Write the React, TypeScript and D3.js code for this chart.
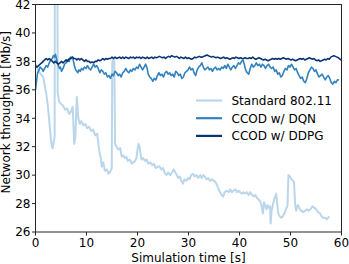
import React from "react";
import * as d3 from "d3";

const W = 349;
const H = 264;
const M = { left: 35.5, right: 7.5, top: 4.5, bottom: 32 };

const xTicks = [0, 10, 20, 30, 40, 50, 60];
const yTicks = [26, 28, 30, 32, 34, 36, 38, 40, 42];
const seriesNames = ["Standard 802.11", "CCOD w/ DQN", "CCOD w/ DDPG"];
const seriesColors = ["#bad6eb", "#3282be", "#0b3474"];
const seriesWidths = [2, 1.6, 1.6];

const standard: [number, number][] = [
  [0.0, 37.8], [0.3, 37.6], [0.6, 37.3], [1.0, 37.1], [1.5, 36.9], [1.8, 36.3], [2.2, 35.5],
  [2.5, 34.6], [2.8, 33.4], [3.0, 32.6], [3.2, 32.0], [3.4, 31.9], [3.6, 32.4], [3.75, 32.7],
  [3.8, 46], [4.3, 46], [4.35, 35.8], [4.6, 35.2], [5.0, 35.0], [5.4, 34.9], [5.8, 34.6],
  [6.2, 34.7], [6.6, 34.3], [7.0, 34.5], [7.3, 34.8], [7.5, 33.0], [7.6, 32.2], [7.8, 32.6],
  [8.1, 35.5], [8.4, 34.0], [8.7, 33.6], [9.0, 33.8], [9.4, 33.5], [9.8, 33.6], [10.1, 33.3],
  [10.5, 33.4], [10.9, 33.1], [11.3, 33.2], [11.7, 32.8], [12.1, 32.9], [12.4, 32.0], [12.6, 31.5],
  [12.8, 31.2], [13.0, 30.6], [13.3, 30.9], [13.6, 30.3], [14.0, 30.4], [14.3, 30.1], [14.6, 30.2],
  [14.95, 30.5], [15.05, 37.9], [15.2, 38.2], [15.45, 38.0], [15.6, 32.2], [15.9, 32.0], [16.2, 31.8],
  [16.6, 31.9], [16.9, 31.3], [17.2, 31.4], [17.5, 31.2], [17.8, 31.3], [18.1, 31.0], [18.5, 31.1],
  [18.9, 30.8], [19.2, 30.9], [19.5, 31.0], [19.8, 31.2], [20.0, 31.8], [20.2, 32.2], [20.4, 32.0],
  [20.6, 31.5], [20.8, 31.1], [21.1, 31.2], [21.5, 31.0], [21.8, 31.1], [22.1, 30.8], [22.5, 30.9],
  [22.9, 30.7], [23.2, 30.8], [23.6, 30.5], [24.0, 30.6], [24.3, 30.6], [24.7, 30.4], [25.0, 30.5],
  [25.4, 30.1], [25.7, 30.0], [26.0, 30.2], [26.4, 30.0], [26.8, 30.2], [27.1, 30.4], [27.4, 30.2],
  [27.7, 30.0], [28.0, 29.8], [28.3, 29.9], [28.6, 29.6], [28.9, 29.4], [29.2, 29.7], [29.6, 29.6],
  [29.9, 29.8], [30.2, 29.7], [30.5, 30.0], [30.9, 30.1], [31.2, 29.9], [31.6, 30.0], [31.9, 29.8],
  [32.3, 30.0], [32.6, 29.8], [32.9, 30.0], [33.2, 29.9], [33.5, 29.7], [33.9, 29.8], [34.2, 29.6],
  [34.6, 29.7], [35.0, 29.6], [35.3, 29.5], [35.6, 29.3], [35.9, 29.0], [36.2, 28.8], [36.5, 28.6],
  [36.8, 28.5], [37.1, 28.8], [37.5, 28.9], [37.9, 28.8], [38.2, 29.0], [38.5, 28.8], [38.8, 28.9],
  [39.2, 29.0], [39.5, 28.8], [39.8, 28.9], [40.1, 28.8], [40.5, 28.7], [40.8, 28.8], [41.1, 28.7],
  [41.4, 28.8], [41.8, 28.6], [42.1, 28.8], [42.5, 28.6], [42.8, 28.5], [43.1, 28.6], [43.4, 28.4],
  [43.7, 28.3], [44.0, 28.2], [44.3, 27.9], [44.6, 27.3], [44.8, 28.1], [45.1, 27.8], [45.3, 27.6],
  [45.5, 27.9], [45.8, 27.7], [46.0, 27.8], [46.1, 26.6], [46.3, 27.5], [46.6, 28.0], [46.9, 28.4],
  [47.2, 28.7], [47.4, 28.0], [47.6, 27.3], [47.9, 27.1], [48.2, 27.0], [48.5, 27.1], [48.9, 27.4],
  [49.2, 27.7], [49.4, 27.8], [49.6, 30.0], [49.9, 29.9], [50.2, 29.7], [50.5, 29.6], [50.7, 29.5],
  [50.9, 28.0], [51.1, 27.5], [51.3, 27.8], [51.5, 27.9], [51.8, 27.6], [52.1, 27.5], [52.5, 27.4],
  [52.9, 27.5], [53.2, 27.6], [53.5, 27.5], [53.9, 27.6], [54.3, 27.8], [54.7, 27.7], [55.0, 27.6],
  [55.4, 27.4], [55.8, 27.3], [56.1, 27.1], [56.4, 27.0], [56.8, 27.0], [57.1, 26.9], [57.4, 27.0],
  [57.6, 27.1],
];

const dqn: [number, number][] = [
  [0.0, 36.0], [0.2, 36.6], [0.4, 37.2], [0.6, 37.3], [0.9, 37.6], [1.2, 37.5], [1.5, 37.3],
  [1.8, 37.5], [2.1, 37.7], [2.4, 37.6], [2.7, 37.9], [3.0, 38.1], [3.3, 38.2], [3.5, 38.4],
  [3.7, 38.3], [3.9, 38.5], [4.1, 38.2], [4.3, 37.9], [4.5, 37.7], [4.7, 37.5], [4.9, 37.6],
  [5.1, 37.3], [5.4, 37.5], [5.7, 37.8], [6.0, 37.9], [6.3, 38.1], [6.6, 38.0], [6.9, 38.3],
  [7.1, 38.2], [7.3, 38.3], [7.5, 37.9], [7.7, 37.6], [7.9, 37.4], [8.1, 37.3], [8.3, 37.2],
  [8.5, 37.4], [8.8, 37.3], [9.0, 37.5], [9.3, 37.4], [9.6, 37.6], [9.9, 37.5], [10.2, 37.7],
  [10.5, 37.5], [10.8, 37.4], [11.1, 37.6], [11.4, 37.8], [11.7, 37.6], [12.0, 37.7], [12.3, 37.5],
  [12.6, 37.2], [12.9, 37.4], [13.2, 37.3], [13.5, 37.1], [13.8, 37.2], [14.1, 36.9], [14.4, 37.0],
  [14.7, 36.8], [15.0, 37.1], [15.3, 37.0], [15.6, 37.3], [15.9, 37.2], [16.2, 37.0], [16.5, 37.1],
  [16.8, 36.9], [17.1, 37.2], [17.4, 37.3], [17.7, 37.5], [18.0, 37.3], [18.3, 37.2], [18.6, 37.4],
  [18.9, 37.3], [19.2, 37.5], [19.5, 37.4], [19.8, 37.6], [20.1, 37.5], [20.4, 37.8], [20.7, 37.6],
  [21.0, 37.4], [21.3, 37.6], [21.6, 37.8], [21.9, 37.5], [22.1, 37.1], [22.4, 36.9], [22.7, 36.8],
  [23.0, 36.6], [23.3, 36.8], [23.6, 36.7], [23.9, 37.0], [24.2, 37.2], [24.5, 37.0], [24.8, 37.1],
  [25.1, 36.9], [25.4, 37.2], [25.7, 37.3], [26.0, 37.1], [26.3, 37.2], [26.6, 37.0], [26.9, 37.1],
  [27.2, 36.9], [27.5, 37.3], [27.8, 37.2], [28.1, 37.0], [28.4, 37.1], [28.7, 36.8], [29.0, 36.9],
  [29.3, 37.2], [29.6, 37.3], [29.9, 37.4], [30.2, 37.6], [30.5, 37.4], [30.8, 37.5], [31.1, 37.2],
  [31.4, 37.0], [31.7, 37.4], [32.0, 37.6], [32.3, 37.7], [32.6, 37.9], [32.9, 37.6], [33.2, 37.4],
  [33.5, 37.5], [33.8, 37.6], [34.1, 37.4], [34.4, 37.5], [34.7, 37.3], [35.0, 37.5], [35.3, 37.6],
  [35.6, 37.4], [35.9, 37.5], [36.2, 37.4], [36.5, 37.6], [36.8, 37.5], [37.1, 37.7], [37.4, 37.5],
  [37.7, 37.8], [38.0, 37.6], [38.3, 37.4], [38.6, 37.6], [38.9, 37.7], [39.2, 37.5], [39.5, 37.7],
  [39.8, 37.9], [40.1, 37.8], [40.4, 38.0], [40.7, 38.1], [41.0, 37.7], [41.2, 37.4], [41.5, 37.2],
  [41.8, 37.1], [42.1, 37.5], [42.4, 37.8], [42.7, 37.6], [43.0, 37.7], [43.3, 37.9], [43.6, 37.7],
  [43.9, 37.8], [44.2, 37.6], [44.5, 37.8], [44.8, 37.7], [45.1, 37.5], [45.4, 37.7], [45.7, 37.8],
  [46.0, 37.6], [46.3, 37.5], [46.6, 37.6], [46.9, 37.3], [47.2, 37.4], [47.5, 37.1], [47.8, 37.2],
  [48.1, 36.9], [48.4, 37.0], [48.7, 37.3], [49.0, 37.5], [49.3, 37.4], [49.6, 37.7], [49.9, 37.6],
  [50.2, 37.8], [50.5, 37.6], [50.8, 37.4], [51.1, 37.5], [51.4, 37.2], [51.7, 37.0], [52.0, 36.8],
  [52.3, 36.9], [52.6, 36.6], [52.9, 36.5], [53.2, 36.8], [53.5, 37.2], [53.8, 37.4], [54.1, 37.6],
  [54.4, 37.5], [54.7, 37.3], [55.0, 37.4], [55.3, 37.1], [55.6, 36.9], [55.9, 37.0], [56.2, 37.1],
  [56.5, 36.9], [56.8, 36.7], [57.1, 36.9], [57.4, 37.0], [57.7, 36.8], [58.0, 36.5], [58.3, 36.4],
  [58.6, 36.6], [58.9, 36.5], [59.2, 36.7], [59.5, 36.7],
];

const ddpg: [number, number][] = [
  [0.0, 37.7], [0.3, 37.6], [0.6, 37.7], [0.9, 37.8], [1.2, 37.9], [1.5, 38.0], [1.8, 38.1],
  [2.1, 38.2], [2.4, 38.1], [2.7, 38.2], [3.0, 38.1], [3.3, 38.0], [3.6, 37.9], [3.9, 38.0],
  [4.2, 37.9], [4.5, 37.8], [4.8, 37.9], [5.1, 38.0], [5.4, 37.9], [5.7, 38.0], [6.0, 38.1],
  [6.3, 38.0], [6.6, 38.2], [6.9, 38.2], [7.2, 38.3], [7.5, 38.2], [7.8, 38.2], [8.1, 38.1],
  [8.4, 38.2], [8.7, 38.1], [9.0, 38.2], [9.3, 38.1], [9.6, 38.0], [9.9, 38.1], [10.2, 38.0],
  [10.5, 38.0], [10.8, 37.9], [11.1, 37.95], [11.4, 37.9], [11.7, 38.0], [12.0, 38.0], [12.3, 38.1],
  [12.6, 38.05], [12.9, 38.1], [13.2, 38.2], [13.5, 38.1], [13.8, 38.2], [14.1, 38.15], [14.4, 38.2],
  [14.7, 38.2], [15.0, 38.3], [15.3, 38.2], [15.6, 38.3], [15.9, 38.2], [16.2, 38.25], [16.5, 38.3],
  [16.8, 38.2], [17.1, 38.3], [17.4, 38.2], [17.7, 38.3], [18.0, 38.25], [18.3, 38.2], [18.6, 38.3],
  [18.9, 38.25], [19.2, 38.3], [19.5, 38.2], [19.8, 38.3], [20.1, 38.25], [20.4, 38.3], [20.7, 38.2],
  [21.0, 38.3], [21.3, 38.25], [21.6, 38.2], [21.9, 38.3], [22.2, 38.2], [22.5, 38.25], [22.8, 38.3],
  [23.1, 38.2], [23.4, 38.3], [23.7, 38.25], [24.0, 38.3], [24.3, 38.35], [24.6, 38.3], [24.9, 38.25],
  [25.2, 38.3], [25.5, 38.2], [25.8, 38.3], [26.1, 38.35], [26.4, 38.3], [26.7, 38.4], [27.0, 38.35],
  [27.3, 38.3], [27.6, 38.35], [27.9, 38.3], [28.2, 38.2], [28.5, 38.3], [28.8, 38.25], [29.1, 38.2],
  [29.4, 38.3], [29.7, 38.2], [30.0, 38.25], [30.3, 38.2], [30.6, 38.15], [30.9, 38.2], [31.2, 38.3],
  [31.5, 38.25], [31.8, 38.3], [32.1, 38.35], [32.4, 38.3], [32.7, 38.3], [33.0, 38.35], [33.3, 38.4],
  [33.6, 38.45], [33.9, 38.4], [34.2, 38.35], [34.5, 38.3], [34.8, 38.35], [35.1, 38.3], [35.4, 38.25],
  [35.7, 38.3], [36.0, 38.25], [36.3, 38.2], [36.6, 38.25], [36.9, 38.3], [37.2, 38.2], [37.5, 38.25],
  [37.8, 38.2], [38.1, 38.15], [38.4, 38.2], [38.7, 38.25], [39.0, 38.2], [39.3, 38.3], [39.6, 38.25],
  [39.9, 38.2], [40.2, 38.25], [40.5, 38.2], [40.8, 38.2], [41.1, 38.25], [41.4, 38.2], [41.7, 38.2],
  [42.0, 38.25], [42.3, 38.2], [42.6, 38.3], [42.9, 38.2], [43.2, 38.15], [43.5, 38.2], [43.8, 38.25],
  [44.1, 38.2], [44.4, 38.15], [44.7, 38.1], [45.0, 38.15], [45.3, 38.1], [45.6, 38.05], [45.9, 38.1],
  [46.2, 38.15], [46.5, 38.2], [46.8, 38.15], [47.1, 38.2], [47.4, 38.15], [47.7, 38.2], [48.0, 38.15],
  [48.3, 38.2], [48.6, 38.25], [48.9, 38.2], [49.2, 38.15], [49.5, 38.2], [49.8, 38.15], [50.1, 38.1],
  [50.4, 38.15], [50.7, 38.1], [51.0, 38.05], [51.3, 38.1], [51.6, 38.15], [51.9, 38.2], [52.2, 38.15],
  [52.5, 38.2], [52.8, 38.1], [53.1, 38.15], [53.4, 38.2], [53.7, 38.25], [54.0, 38.2], [54.3, 38.15],
  [54.6, 38.2], [54.9, 38.1], [55.2, 38.05], [55.5, 38.1], [55.8, 38.0], [56.1, 38.05], [56.4, 38.1],
  [56.7, 38.15], [57.0, 38.1], [57.3, 38.2], [57.6, 38.15], [57.9, 38.3], [58.2, 38.35], [58.5, 38.4],
  [58.8, 38.35], [59.1, 38.3], [59.4, 38.25], [59.7, 38.15], [60.0, 38.1],
];

const allSeries = [standard, dqn, ddpg];

export default function App() {
  const x = d3.scaleLinear().domain([0, 60]).range([M.left, W - M.right]);
  const y = d3.scaleLinear().domain([26, 42]).range([H - M.bottom, M.top]);
  const line = d3
    .line<[number, number]>()
    .x((d) => x(d[0]))
    .y((d) => y(d[1]));
  const font = "DejaVu Sans, sans-serif";
  const axisColor = "#262626";
  const x0 = M.left;
  const x1 = W - M.right;
  const y0 = H - M.bottom;
  const y1 = M.top;

  return (
    <svg
      width={W}
      height={H}
      style={{ position: "absolute", left: 0, top: 0, background: "#fff" }}
      fontFamily={font}
    >
      <defs>
        <clipPath id="plotclip">
          <rect x={x0} y={y1} width={x1 - x0} height={y0 - y1} />
        </clipPath>
      </defs>
      <g clipPath="url(#plotclip)">
        {allSeries.map((s, i) => (
          <path
            key={i}
            d={line(s) || ""}
            fill="none"
            stroke={seriesColors[i]}
            strokeWidth={seriesWidths[i]}
            strokeLinejoin="round"
          />
        ))}
      </g>
      <rect x={x0} y={y1} width={x1 - x0} height={y0 - y1} fill="none" stroke={axisColor} strokeWidth={1} />
      {xTicks.map((t) => (
        <g key={"x" + t}>
          <line x1={x(t)} x2={x(t)} y1={y0} y2={y0 + 3.5} stroke={axisColor} strokeWidth={1} />
          <text x={x(t)} y={y0 + 15} fontSize={12} textAnchor="middle" fill="#000">
            {t}
          </text>
        </g>
      ))}
      {yTicks.map((t) => (
        <g key={"y" + t}>
          <line x1={x0 - 3.5} x2={x0} y1={y(t)} y2={y(t)} stroke={axisColor} strokeWidth={1} />
          <text x={x0 - 5} y={y(t)} dy="0.36em" fontSize={12} textAnchor="end" fill="#000">
            {t}
          </text>
        </g>
      ))}
      <text x={(x0 + x1) / 2} y={H - 2} fontSize={12} textAnchor="middle" fill="#000">
        Simulation time [s]
      </text>
      <text
        transform={`translate(10,${(y0 + y1) / 2 - 6}) rotate(-90)`}
        fontSize={12}
        textAnchor="middle"
        fill="#000"
      >
        Network throughput [Mb/s]
      </text>
      {seriesNames.map((n, i) => (
        <g key={n}>
          <line
            x1={196}
            x2={222}
            y1={100.5 + i * 17.7}
            y2={100.5 + i * 17.7}
            stroke={seriesColors[i]}
            strokeWidth={2.2}
          />
          <text x={231.5} y={100.5 + i * 17.7} dy="0.36em" fontSize={12} fill="#000">
            {n}
          </text>
        </g>
      ))}
    </svg>
  );
}
